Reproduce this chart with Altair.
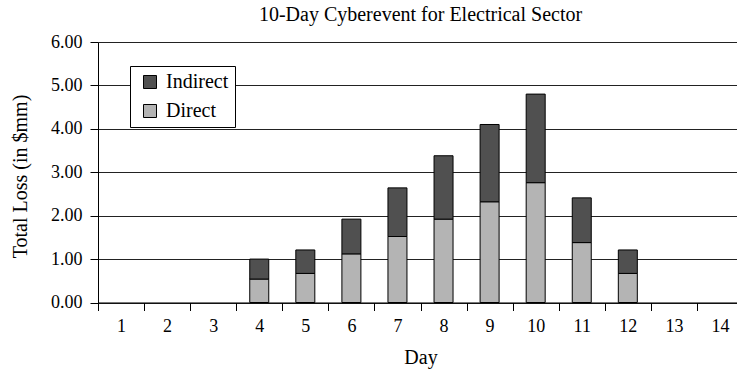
import altair as alt
import pandas as pd

# Category axis: all days of the window
days = [str(d) for d in range(1, 15)]

# Days with losses, and the two loss components ($mm)
loss_days = ["4", "5", "6", "7", "8", "9", "10", "11", "12"]
direct = [0.54, 0.67, 1.12, 1.52, 1.92, 2.32, 2.76, 1.38, 0.67]
indirect = [0.46, 0.54, 0.80, 1.12, 1.46, 1.78, 2.04, 1.03, 0.54]

series = ["Indirect", "Direct"]
series_colors = ["#505050", "#b4b4b4"]
y_ticks = [0, 1, 2, 3, 4, 5, 6]

rows = []
for d, dv, iv in zip(loss_days, direct, indirect):
    rows.append({"Day": d, "Type": "Direct", "Loss": dv, "Stack": 0})
    rows.append({"Day": d, "Type": "Indirect", "Loss": iv, "Stack": 1})
df = pd.DataFrame(rows)

FONT = "Liberation Serif"

bars = alt.Chart(df).mark_bar(size=19, stroke="black", strokeWidth=1).encode(
    x=alt.X(
        "Day:O",
        sort=days,
        scale=alt.Scale(domain=days, range=[0, 645], paddingInner=0, paddingOuter=0),
        axis=alt.Axis(
            title="Day",
            labelAngle=0,
            tickBand="extent",
            tickSize=8,
            labelPadding=7,
            grid=False,
            domainColor="black",
            tickColor="black",
            labelFont=FONT,
            labelFontSize=18,
            labelColor="black",
            titleFont=FONT,
            titleFontSize=20,
            titleFontWeight="normal",
            titleColor="black",
            titleBaseline="alphabetic",
            titleX=322.5,
            titleY=61,
        ),
    ),
    y=alt.Y(
        "Loss:Q",
        stack="zero",
        scale=alt.Scale(domain=[0, 6], nice=False),
        axis=alt.Axis(
            title="Total Loss (in $mm)",
            values=y_ticks,
            format=".2f",
            tickSize=8,
            labelPadding=8,
            domainColor="black",
            tickColor="black",
            gridColor="#222222",
            gridWidth=1,
            labelFont=FONT,
            labelFontSize=18,
            labelColor="black",
            titleFont=FONT,
            titleFontSize=20,
            titleFontWeight="normal",
            titleColor="black",
            titleBaseline="middle",
            titleX=-78,
            titleY=134,
        ),
    ),
    color=alt.Color(
        "Type:N",
        scale=alt.Scale(domain=series, range=series_colors),
        legend=alt.Legend(
            title=None,
            orient="none",
            legendX=32,
            legendY=24,
            direction="vertical",
            fillColor="white",
            strokeColor="black",
            padding=6,
            symbolType="square",
            symbolSize=169,
            symbolStrokeColor="black",
            symbolStrokeWidth=1,
            symbolOffset=4,
            labelOffset=6,
            labelFont=FONT,
            labelFontSize=20,
            labelColor="black",
            rowPadding=9,
        ),
    ),
    order=alt.Order("Stack:Q"),
).properties(
    width=639,
    height=260.5,
    title=alt.TitleParams(
        "10-Day Cyberevent for Electrical Sector",
        font=FONT,
        fontSize=20,
        fontWeight="normal",
        color="black",
        anchor="middle",
        frame="group",
        baseline="bottom",
        offset=6,
        dx=3,
        dy=18,
    ),
    autosize=alt.AutoSizeParams(type="none"),
    padding={"left": 98, "top": 42, "right": 0, "bottom": 68.5},
)

chart = bars.configure_view(fill="#e0e0e0", stroke=None).configure(background="white")

chart.save("out.html", embed_options={"renderer": "svg", "actions": False})
